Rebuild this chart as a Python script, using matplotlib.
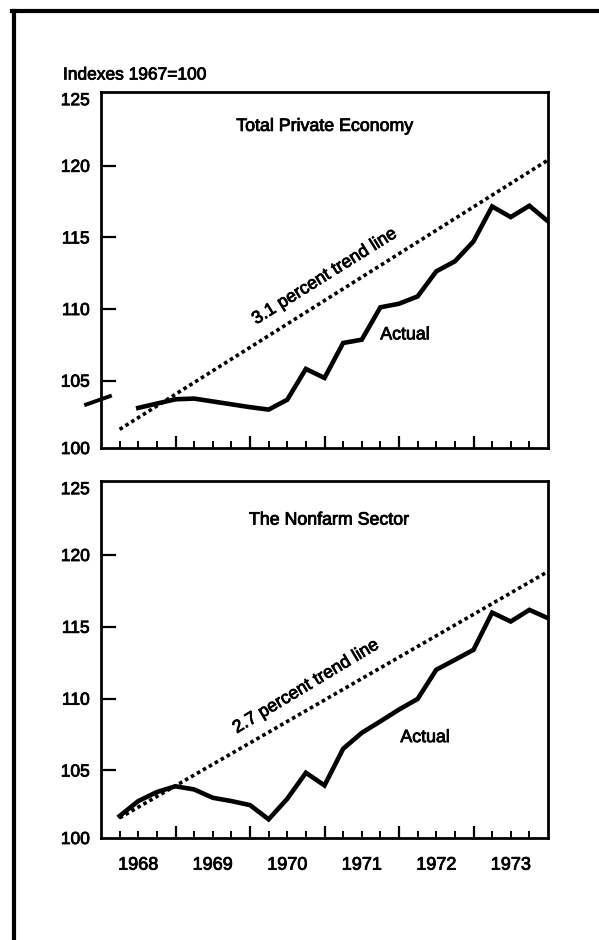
import matplotlib
matplotlib.use("Agg")
import matplotlib.pyplot as plt
import matplotlib.patheffects as pe
from matplotlib.lines import Line2D

plt.rcParams['font.family'] = ['Liberation Sans', 'DejaVu Sans']

# quarter ends, 1968 Q1 .. 1973 Q4
quarters = [1968.25, 1968.5, 1968.75, 1969.0, 1969.25, 1969.5, 1969.75, 1970.0,
            1970.25, 1970.5, 1970.75, 1971.0, 1971.25, 1971.5, 1971.75, 1972.0,
            1972.25, 1972.5, 1972.75, 1973.0, 1973.25, 1973.5, 1973.75, 1974.0]

# total private economy, starts 1968 Q2
private_actual = [103.1, 103.4, 103.7, 103.75, 103.55, 103.35, 103.15, 102.98,
                  103.67, 105.82, 105.19, 107.63, 107.86, 110.12, 110.37, 110.88,
                  112.63, 113.33, 114.72, 117.16, 116.42, 117.21, 116.12]
private_trend_x = [1968.25, 1974.0]
private_trend = [101.6, 120.4]

# nonfarm sector, starts 1968 Q1
nonfarm_actual = [101.83, 102.87, 103.5, 103.9, 103.68, 103.1, 102.87, 102.59,
                  101.6, 103.03, 104.84, 103.96, 106.51, 107.62, 108.42, 109.24,
                  109.98, 112.01, 112.7, 113.4, 115.99, 115.37, 116.18, 115.6]
nonfarm_trend_x = [1968.25, 1974.0]
nonfarm_trend = [101.7, 118.85]

years = ['1968', '1969', '1970', '1971', '1972', '1973']
year_mid = [1968.5, 1969.5, 1970.5, 1971.5, 1972.5, 1973.5]
year_ticks = [1969, 1970, 1971, 1972, 1973]
ytick_vals = [100.3, 105, 110, 115, 120, 124.65]
ytick_labels = ['100', '105', '110', '115', '120', '125']

heavy = [pe.withStroke(linewidth=0.6, foreground='black')]

W, H = 599, 940
fig = plt.figure(figsize=(W / 100, H / 100), dpi=100)
fig.patch.set_facecolor('white')

ax1 = fig.add_axes([101 / W, 1 - 448 / H, 447 / W, 356 / H])
ax2 = fig.add_axes([101 / W, 1 - 838 / H, 447 / W, 357 / H])


def setup(ax):
    ax.set_xlim(1968, 1974)
    ax.set_ylim(100.3, 125.15)
    for s in ax.spines.values():
        s.set_linewidth(2)
    ax.set_yticks(ytick_vals)
    ax.set_yticklabels(ytick_labels)
    ax.tick_params(axis='y', direction='in', length=11, width=1.6, pad=8, labelsize=12.5)
    for lab in ax.get_yticklabels():
        lab.set_path_effects(heavy)
    ticks = ax.yaxis.get_major_ticks()
    ticks[0].tick1line.set_visible(False)
    ticks[-1].tick1line.set_visible(False)
    ax.set_xticks(year_ticks)
    ax.set_xticks(quarters[:-1], minor=True)
    ax.tick_params(axis='x', which='major', direction='in', length=9, width=1.6,
                   labelbottom=False)
    ax.tick_params(axis='x', which='minor', direction='in', length=5, width=1.4)


setup(ax1)
setup(ax2)

txt = dict(ha='center', va='center', fontsize=12.8, path_effects=heavy)

# top panel
ax1.plot(private_trend_x, private_trend, color='black', lw=2.6,
         linestyle=(0, (1, 0.9)), dash_capstyle='butt')
ax1.plot(quarters[1:], private_actual, color='black', lw=3.3, solid_joinstyle='miter')
ax1.plot([1967.80, 1968.12], [103.33, 103.92], color='black', lw=2.8, clip_on=False)
ax1.text(1971.0, 122.75, 'Total Private Economy', **txt)
ax1.text(1971.0, 112.26, '3.1 percent trend line', rotation=32,
         rotation_mode='anchor', **txt)
ax1.text(1972.08, 108.2, 'Actual', **txt)

# bottom panel
ax2.plot(nonfarm_trend_x, nonfarm_trend, color='black', lw=2.6,
         linestyle=(0, (1, 0.9)), dash_capstyle='butt')
ax2.plot(quarters, nonfarm_actual, color='black', lw=3.3, solid_joinstyle='miter')
ax2.text(1971.06, 122.43, 'The Nonfarm Sector', **txt)
ax2.text(1970.75, 110.83, '2.7 percent trend line', rotation=31,
         rotation_mode='anchor', **txt)
ax2.text(1972.35, 107.29, 'Actual', **txt)

for x, lab in zip(year_mid, years):
    ax2.text(x, -0.076, lab, transform=ax2.get_xaxis_transform(),
             ha='center', va='center', fontsize=13, path_effects=heavy)

fig.text(63 / W, 1 - 75 / H, 'Indexes 1967=100', ha='left', va='center',
         fontsize=12.5, path_effects=heavy)

# outer frame
fig.add_artist(Line2D([14 / W, 14 / W], [0, 1 - 11 / H], color='black', lw=3,
                      transform=fig.transFigure))
fig.add_artist(Line2D([12 / W, 1], [1 - 11 / H, 1 - 11 / H], color='black', lw=3,
                      transform=fig.transFigure))

fig.savefig('out.png', dpi=100)
